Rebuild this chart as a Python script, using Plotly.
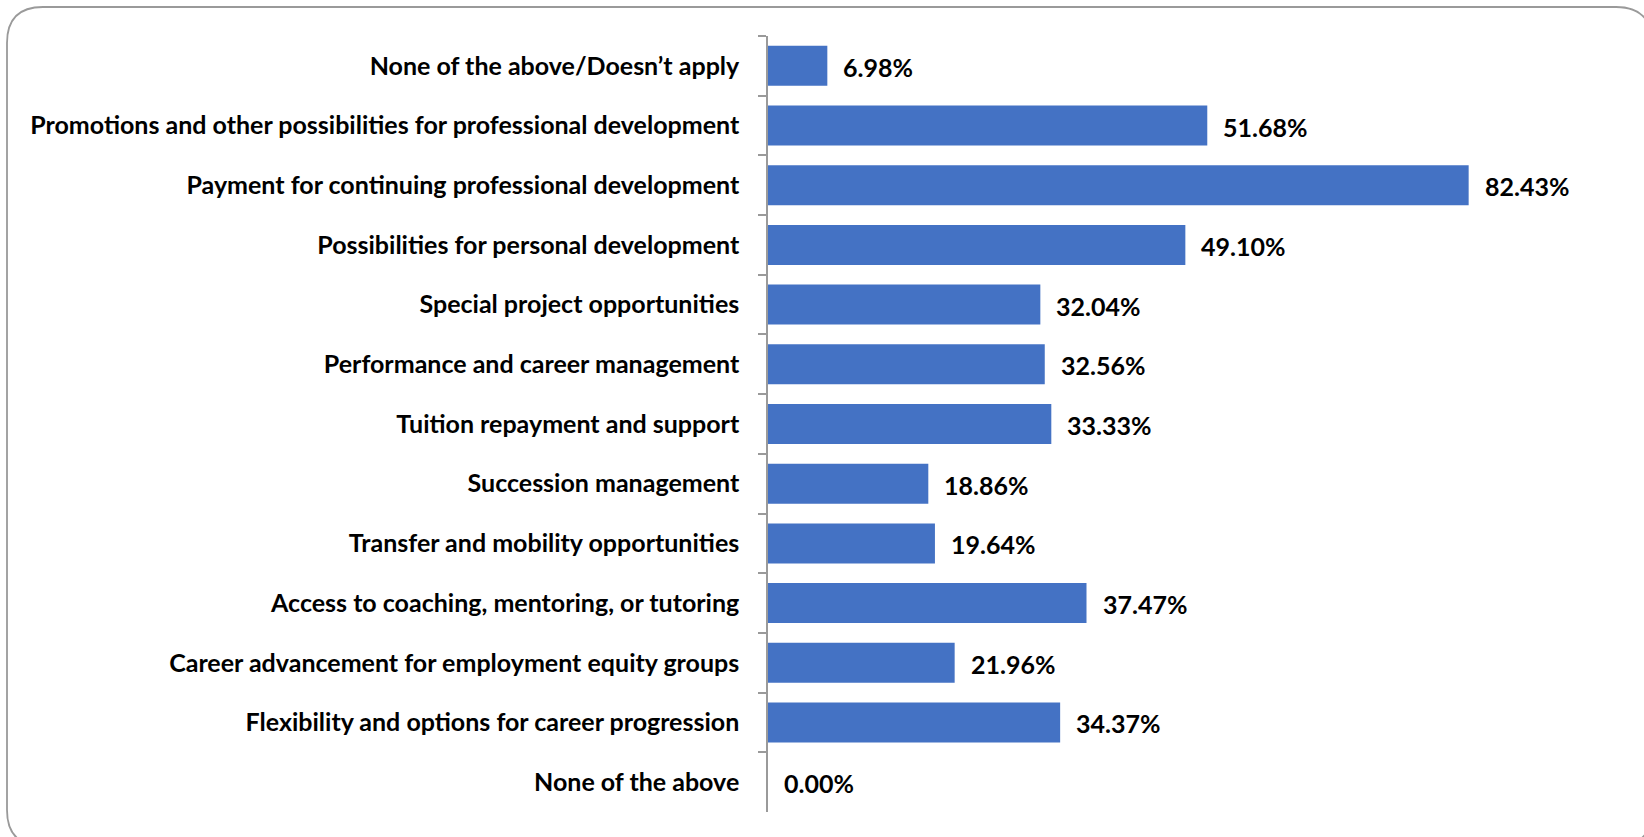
import plotly.graph_objects as go

# Categories listed top to bottom, with their shares (%)
categories = [
    "None of the above/Doesn\u2019t apply",
    "Promotions and other possibilities for professional development",
    "Payment for continuing professional development",
    "Possibilities for personal development",
    "Special project opportunities",
    "Performance and career management",
    "Tuition repayment and support",
    "Succession management",
    "Transfer and mobility opportunities",
    "Access to coaching, mentoring, or tutoring",
    "Career advancement for employment equity groups",
    "Flexibility and options for career progression",
    "None of the above",
]
values = [6.98, 51.68, 82.43, 49.10, 32.04, 32.56, 33.33, 18.86, 19.64, 37.47, 21.96, 34.37, 0.00]
value_labels = [f"{v:.2f}%" for v in values]

W, H = 1644, 837
L, R, T, B = 768, 1533, 36, 812  # plot area in pixels
FONT = "Lato, 'Open Sans', Arial, sans-serif"
FSIZE = 25

fig = go.Figure(
    go.Bar(
        x=values,
        y=categories,
        orientation="h",
        marker=dict(color="#4472C4", line=dict(width=0)),
        hoverinfo="skip",
    )
)

for v, lab, cat in zip(values, value_labels, categories):
    fig.add_annotation(
        x=v, y=cat, xref="x", yref="y",
        text=f"<b>{lab}</b>", showarrow=False,
        xanchor="left", yanchor="middle", xshift=14, yshift=-1,
        font=dict(family=FONT, size=FSIZE, color="#000000"),
    )

# Rounded frame around the whole chart, expressed in paper coordinates
def px(xp):
    return (xp - L) / (R - L)

def py(yp):
    return (B - yp) / (B - T)

x0, y0, x1, y1, rad = 7, 7, 1652, 846, 36
path = (
    f"M {px(x0 + rad)},{py(y0)} L {px(x1 - rad)},{py(y0)} "
    f"Q {px(x1)},{py(y0)} {px(x1)},{py(y0 + rad)} "
    f"L {px(x1)},{py(y1 - rad)} Q {px(x1)},{py(y1)} {px(x1 - rad)},{py(y1)} "
    f"L {px(x0 + rad)},{py(y1)} Q {px(x0)},{py(y1)} {px(x0)},{py(y1 - rad)} "
    f"L {px(x0)},{py(y0 + rad)} Q {px(x0)},{py(y0)} {px(x0 + rad)},{py(y0)} Z"
)
fig.add_shape(type="path", path=path, xref="paper", yref="paper",
              line=dict(color="#9a9a9a", width=1.8), layer="above")

fig.update_layout(
    width=W, height=H,
    margin=dict(l=L, r=W - R, t=T, b=H - B, pad=0),
    paper_bgcolor="white", plot_bgcolor="white",
    bargap=0.33,
    showlegend=False,
    xaxis=dict(range=[0, 90], visible=False, fixedrange=True),
    yaxis=dict(
        autorange="reversed",
        categoryorder="array", categoryarray=categories,
        showline=True, linecolor="#9a9a9a", linewidth=1.5,
        ticks="outside", tickson="boundaries", ticklen=8,
        tickcolor="#9a9a9a", tickwidth=1.5,
        ticklabelstandoff=22,
        tickfont=dict(family=FONT, size=FSIZE, color="#000000", weight="bold"),
        showgrid=False, zeroline=False, fixedrange=True,
    ),
)

fig.write_html("out.html")
